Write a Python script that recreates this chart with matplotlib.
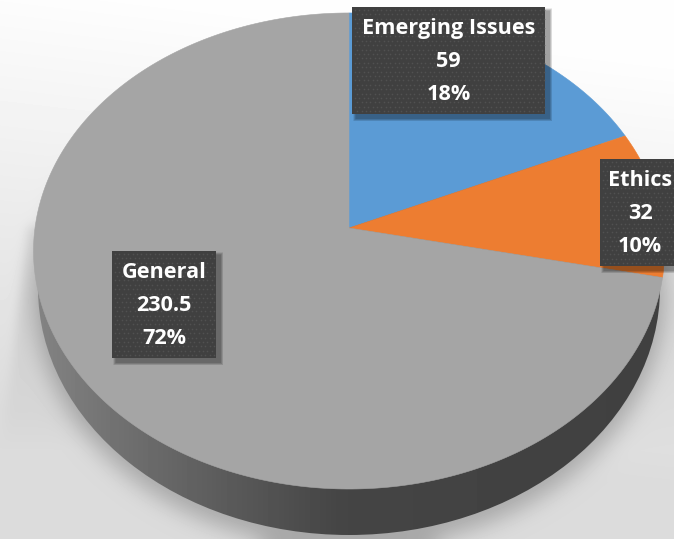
import matplotlib
matplotlib.use("Agg")
import matplotlib.pyplot as plt
from matplotlib.patches import Polygon, Rectangle, Ellipse
import numpy as np

W, H = 674, 539

categories = ["Emerging Issues", "Ethics", "General"]
values = [59, 32, 230.5]
colors = ["#5b9bd5", "#ed7d31", "#a5a5a5"]
boxes = [(352, 7, 193, 107), (600, 159, 80, 107), (112, 251, 104, 107)]

# disc geometry in pixels, k is the perspective strength
cx, cy = 349, 228
rx, ry = 314, 235.8
k = 0.0966


def project(angle):
    # angle in radians clockwise from the top of the disc
    u = np.sin(angle)
    v = -np.cos(angle)
    d = 1 - k * v
    return cx + rx * u / d, cy + ry * v / d


def blur(a, sigma):
    n = int(3 * sigma)
    t = np.arange(-n, n + 1)
    g = np.exp(-t**2 / (2 * sigma**2))
    g /= g.sum()
    a = np.pad(a, n, mode="edge")
    a = np.apply_along_axis(lambda m: np.convolve(m, g, mode="same"), 0, a)
    a = np.apply_along_axis(lambda m: np.convolve(m, g, mode="same"), 1, a)
    return a[n:-n, n:-n]


fig = plt.figure(figsize=(W / 100, H / 100), dpi=100)
ax = fig.add_axes([0, 0, 1, 1])
ax.set_xlim(0, W)
ax.set_ylim(H, 0)
ax.axis("off")

# background: pale gradient getting darker to the bottom
yy, xx = np.mgrid[0:H, 0:W]
bg = 0.995 - 0.135 * np.clip((yy - 60 + (W - xx) * 0.12) / 430, 0, 1)

# soft drop shadow under the disc
sh_mask = ((xx - 349) / 314.0) ** 2 + ((yy - 298) / 250.0) ** 2 < 1
bg = bg - 0.2 * blur(sh_mask.astype(float), 11)

# paler cast shadow sticking out on the left
left = (xx > 10 + (373 - yy) * 0.12) & (yy > 225) & (yy < 470)
bg = bg - 0.08 * blur(left.astype(float), 5) * np.clip((450 - yy) / 150, 0, 1)
ax.imshow(bg, cmap="gray", vmin=0, vmax=1, extent=(0, W, H, 0), aspect="auto", zorder=0, interpolation="bilinear")

# side wall, a narrower disc underneath with a left to right gradient
stops_x = [30, 120, 220, 340, 670]
stops_c = [0.52, 0.44, 0.36, 0.27, 0.25]
grad = np.interp(np.arange(W), stops_x, stops_c)[None, :]
side = ax.imshow(grad, cmap="gray", vmin=0, vmax=1, extent=(0, W, H, 0), aspect="auto", zorder=1)
side.set_clip_path(Ellipse((349, 288), 622, 494, transform=ax.transData))

# top face of the pie
total = sum(values)
start = 0.0
for val, col in zip(values, colors):
    end = start + val / total * 2 * np.pi
    t = np.linspace(start, end, 300)
    px, py = project(t)
    ax.add_patch(Polygon(np.column_stack([np.r_[cx, px], np.r_[cy, py]]), closed=True, fc=col, ec=col, lw=0.4, zorder=2))
    start = end

# data labels
for name, val, (x, y, w, h) in zip(categories, values, boxes):
    for i in range(6):
        grow = 6 - i
        ax.add_patch(Rectangle((x + 4 - grow / 2, y + 4 - grow / 2), w + grow, h + grow, fc="black", ec="none", alpha=0.07, zorder=3))
    ax.add_patch(Rectangle((x, y), w, h, fc="#404040", ec="none", zorder=4))
    dx, dy = np.meshgrid(np.arange(x + 3, x + w, 4.4), np.arange(y + 3, y + h, 4.4))
    dx[1::2] += 2.2
    keep = dx < x + w
    ax.scatter(dx[keep], dy[keep], s=1.4, c="#515151", linewidths=0, zorder=5)
    pct = f"{val / total:.0%}"
    lines = [name, f"{val:g}", pct]
    for j, s in enumerate(lines):
        ax.text(x + w / 2, y + 21.5 + j * 33, s, color="white", fontsize=15.6, fontweight="bold", family="Open Sans", ha="center", va="center", zorder=6)

fig.savefig("out.png", dpi=100)
